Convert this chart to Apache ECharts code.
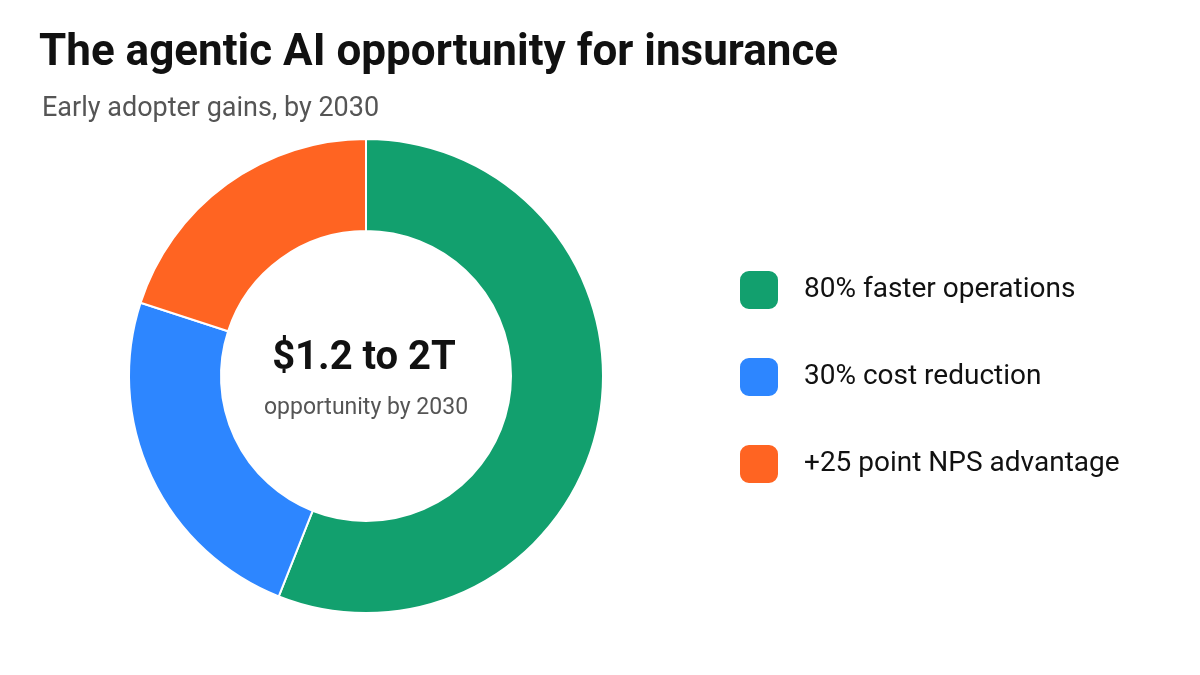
<!DOCTYPE html>
<html>
<head>
    <meta charset="utf-8">
    <title>The agentic AI opportunity for insurance</title>
    <script src="https://cdn.jsdelivr.net/npm/echarts@6/dist/echarts.min.js"></script>
    <style>
        html, body { margin: 0; padding: 0; background: #fff; }
        #chart { width: 1200px; height: 675px; }
    </style>
</head>
<body>
    <div id="chart"></div>
    <script type="text/javascript">
        // segments of the ring, clockwise from 12 o'clock
        var names = ['80% faster operations', '30% cost reduction', '+25 point NPS advantage'];
        var values = [56, 24, 20];
        var colors = ['#12A06E', '#2D86FF', '#FF6422'];

        var chart = echarts.init(document.getElementById('chart'));
        var font = 'Roboto, "Noto Sans", sans-serif';

        var pieData = [];
        for (var i = 0; i < names.length; i++) {
            pieData.push({ name: names[i], value: values[i], itemStyle: { color: colors[i] } });
        }

        chart.setOption({
            backgroundColor: '#fff',
            title: [{
                text: 'The agentic AI opportunity for insurance',
                left: 34,
                top: 27,
                textStyle: { fontFamily: font, fontSize: 44, fontWeight: 'bold', color: '#111' }
            }, {
                text: 'Early adopter gains, by 2030',
                left: 37,
                top: 91,
                textStyle: { fontFamily: font, fontSize: 27, fontWeight: 'normal', color: '#555' }
            }],
            legend: {
                orient: 'vertical',
                left: 733,
                top: 264,
                itemWidth: 40,
                itemHeight: 40,
                itemGap: 45,
                icon: 'roundRect',
                selectedMode: false,
                data: names,
                textStyle: { fontFamily: font, fontSize: 28, color: '#111', padding: [0, 0, 0, 20] }
            },
            graphic: [{
                type: 'text',
                z: 100,
                style: {
                    x: 364, y: 359,
                    text: '$1.2 to 2T',
                    textAlign: 'center', textVerticalAlign: 'middle',
                    fontFamily: font, fontSize: 40, fontWeight: 'bold', fill: '#111'
                }
            }, {
                type: 'text',
                z: 100,
                style: {
                    x: 366, y: 408,
                    text: 'opportunity by 2030',
                    textAlign: 'center', textVerticalAlign: 'middle',
                    fontFamily: font, fontSize: 23, fill: '#555'
                }
            }],
            series: [{
                type: 'pie',
                center: [366, 376],
                radius: [145, 237],
                startAngle: 90,
                clockwise: true,
                avoidLabelOverlap: false,
                label: { show: false },
                labelLine: { show: false },
                emphasis: { disabled: true },
                itemStyle: { borderColor: '#fff', borderWidth: 2 },
                data: pieData
            }]
        });
    </script>
</body>
</html>
